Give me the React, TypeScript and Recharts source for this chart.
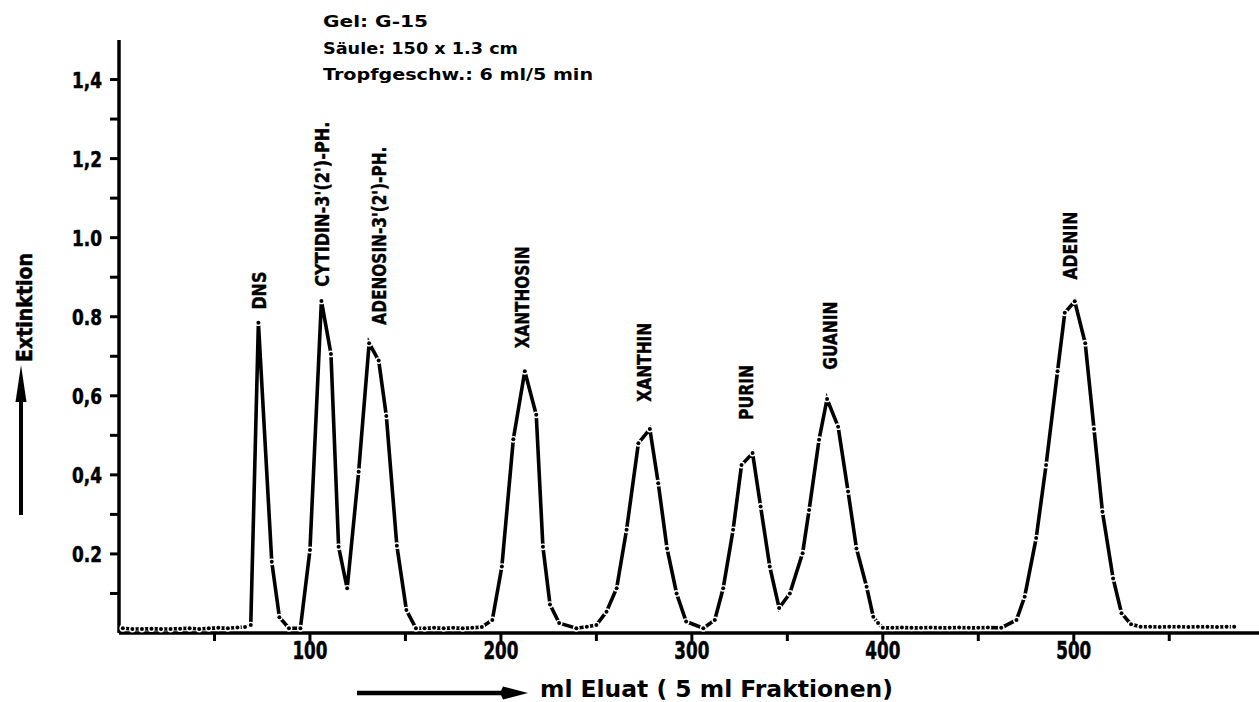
import { ComposedChart, Line, Scatter, XAxis, YAxis } from 'recharts';

// Elution volume (ml) of each measured fraction and its extinction
const elutionMl = [
  2, 7, 12, 17, 22, 27, 32, 37, 42, 47, 52, 57, 62, 66, 69,
  73, 80, 84, 89, 95, 100, 106, 111, 115, 119.5, 125.5, 131, 136, 140, 145.5, 150.5, 155.5,
  160, 165, 170, 175, 180, 185, 190, 195.5, 200.5, 206.5, 212.5, 218.5, 222, 225.7, 230.5,
  239.5, 245, 250, 255.3, 260.6, 265.8, 272, 278, 282.4, 287, 292, 297, 306,
  312, 316.4, 321.6, 326, 331.8, 336, 340.8, 345.7, 351.3, 358, 361.4, 366.6, 370.8,
  376.6, 381.8, 386.2, 391.5, 395, 397.5, 400,
  405, 410, 415, 420, 425, 430, 435, 440, 445, 450, 455, 462,
  470, 474.3, 480.3, 485.5, 491.5, 495.3, 500.5, 506, 510.6, 515, 520.6, 525, 530,
  535, 540, 545, 550, 555, 560, 565, 570, 575, 580, 584,
];
const extinction = [
  0.012, 0.01, 0.01, 0.011, 0.01, 0.01, 0.011, 0.012, 0.01, 0.012, 0.013, 0.012, 0.014, 0.015, 0.02,
  0.785, 0.18, 0.04, 0.012, 0.012, 0.21, 0.84, 0.706, 0.218, 0.113, 0.408, 0.733, 0.689, 0.549, 0.221, 0.058, 0.012,
  0.012, 0.013, 0.012, 0.013, 0.012, 0.013, 0.015, 0.033, 0.168, 0.49, 0.662, 0.552, 0.218, 0.072, 0.025,
  0.012, 0.016, 0.02, 0.054, 0.113, 0.261, 0.48, 0.516, 0.379, 0.214, 0.1, 0.029, 0.012,
  0.033, 0.113, 0.261, 0.425, 0.455, 0.32, 0.168, 0.063, 0.1, 0.202, 0.311, 0.489, 0.592,
  0.522, 0.358, 0.214, 0.117, 0.041, 0.025, 0.013,
  0.013, 0.014, 0.013, 0.013, 0.014, 0.013, 0.013, 0.014, 0.013, 0.013, 0.014, 0.013,
  0.033, 0.092, 0.24, 0.425, 0.662, 0.81, 0.839, 0.733, 0.516, 0.307, 0.138, 0.05, 0.022,
  0.016, 0.016, 0.015, 0.016, 0.016, 0.015, 0.016, 0.016, 0.015, 0.016, 0.016,
];

// Peak names, with where the foot of each vertical label sits (ml, extinction)
const peakNames = [
  'DNS',
  "CYTIDIN-3'(2')-PH.",
  "ADENOSIN-3'(2')-PH.",
  'XANTHOSIN',
  'XANTHIN',
  'PURIN',
  'GUANIN',
  'ADENIN',
];
const peakLabelMl = [73.3, 106.2, 136, 211.3, 275.2, 328.2, 372.5, 498];
const peakLabelFoot = [0.818, 0.876, 0.78, 0.72, 0.585, 0.539, 0.666, 0.894];

const xTicks = [50, 100, 150, 200, 250, 300, 350, 400, 450, 500, 550];
const xTickLabels = ['', '100', '', '200', '', '300', '', '400', '', '500', ''];
const yTicks = [0.1, 0.2, 0.3, 0.4, 0.5, 0.6, 0.7, 0.8, 0.9, 1.0, 1.1, 1.2, 1.3, 1.4];
const yTickLabels = ['', '0.2', '', '0,4', '', '0,6', '', '0.8', '', '1.0', '', '1,2', '', '1,4'];

const notes = ['Gel:  G-15', 'Säule:  150 x 1.3 cm', 'Tropfgeschw.:  6 ml/5 min'];

const curve = elutionMl.map((ml, i) => ({ ml, ext: extinction[i] }));
const labels = peakNames.map((name, i) => ({ ml: peakLabelMl[i], ext: peakLabelFoot[i], name }));

const narrow = '"Liberation Sans Narrow", "DejaVu Sans Condensed", "Arial Narrow", sans-serif';
const wide = '"DejaVu Sans", Verdana, sans-serif';

const labelLength: Record<string, number> = {
  DNS: 38,
  "CYTIDIN-3'(2')-PH.": 165,
  "ADENOSIN-3'(2')-PH.": 178,
  XANTHOSIN: 102,
  XANTHIN: 79,
  PURIN: 55,
  GUANIN: 68,
  ADENIN: 68,
};
const noteLength = [105, 195, 270];

function MeasureDot(props: any) {
  const { cx, cy, index } = props;
  if (cx == null || cy == null) return <g key={index} />;
  return (
    <g key={`d${index}`}>
      <circle cx={cx} cy={cy} r={3.4} fill="#fff" />
      <circle cx={cx} cy={cy} r={2} fill="#000" />
    </g>
  );
}

function PeakLabel(props: any) {
  const { cx, cy, payload } = props;
  return (
    <text
      x={cx}
      y={cy}
      dy={7}
      transform={`rotate(-90 ${cx} ${cy})`}
      textAnchor="start"
      fontFamily={narrow}
      fontWeight={700}
      fontSize={19}
      fill="#000"
      stroke="#000"
      strokeWidth={0.4}
      textLength={labelLength[payload.name]}
      lengthAdjust="spacingAndGlyphs"
    >
      {payload.name}
    </text>
  );
}

function XTick(props: any) {
  const { x, y, index } = props;
  const txt = xTickLabels[index] ?? '';
  if (!txt) return <g />;
  return (
    <text x={x} y={y} dy={17} textAnchor="middle" fontFamily={narrow} fontWeight={700} fontSize={24}
      fill="#000" stroke="#000" strokeWidth={0.5} textLength={35} lengthAdjust="spacingAndGlyphs">
      {txt}
    </text>
  );
}

function YTick(props: any) {
  const { x, y, index } = props;
  const txt = yTickLabels[index] ?? '';
  if (!txt) return <g />;
  return (
    <text x={x} y={y} dy={8} textAnchor="end" fontFamily={narrow} fontWeight={700} fontSize={22} fill="#000"
      stroke="#000" strokeWidth={0.5} textLength={30} lengthAdjust="spacingAndGlyphs">
      {txt}
    </text>
  );
}

export default function App() {
  return (
    <div style={{ position: 'absolute', left: 0, top: 0, width: 1259, height: 702, background: '#fff' }}>
      <ComposedChart width={1259} height={702} data={curve} margin={{ top: 40, right: 0, left: 0, bottom: 0 }}>
        <XAxis
          type="number"
          dataKey="ml"
          domain={[0, 597]}
          ticks={xTicks}
          interval={0}
          height={69}
          tickSize={8}
          tickMargin={1}
          axisLine={{ stroke: '#000', strokeWidth: 3.5 }}
          tickLine={{ stroke: '#000', strokeWidth: 3 }}
          tick={<XTick />}
        />
        <YAxis
          type="number"
          dataKey="ext"
          domain={[0, 1.5]}
          ticks={yTicks}
          interval={0}
          width={119}
          tickSize={9}
          tickMargin={8}
          axisLine={{ stroke: '#000', strokeWidth: 3.5 }}
          tickLine={{ stroke: '#000', strokeWidth: 3 }}
          tick={<YTick />}
        />
        <Line
          data={curve}
          dataKey="ext"
          type="linear"
          stroke="#000"
          strokeWidth={3.6}
          dot={MeasureDot}
          activeDot={false}
          isAnimationActive={false}
        />
        <Scatter data={labels} dataKey="ext" shape={PeakLabel} isAnimationActive={false} />
      </ComposedChart>

      <svg width={1259} height={702} style={{ position: 'absolute', left: 0, top: 0, pointerEvents: 'none' }}>
        {notes.map((n, i) => (
          <text key={n} x={323} y={27 + i * 26.5} fontFamily={wide} fontWeight={700} fontSize={16} fill="#000"
            textLength={noteLength[i]} lengthAdjust="spacingAndGlyphs">
            {n}
          </text>
        ))}

        {/* y axis title and arrow */}
        <text x={32} y={362} transform="rotate(-90 32 362)" fontFamily={narrow} fontWeight={700} fontSize={22}
          fill="#000" stroke="#000" strokeWidth={0.5} textLength={109} lengthAdjust="spacingAndGlyphs">
          Extinktion
        </text>
        <line x1={21} y1={515} x2={21} y2={395} stroke="#000" strokeWidth={4} />
        <polygon points="21,365 15.5,402 26.5,402" fill="#000" />

        {/* x axis title and arrow */}
        <line x1={357} y1={693} x2={505} y2={693} stroke="#000" strokeWidth={4.5} />
        <polygon points="528,693 503,686.5 500,693 503,699.5" fill="#000" />
        <text x={540} y={697} fontFamily={wide} fontWeight={700} fontSize={23} fill="#000"
          textLength={353} lengthAdjust="spacingAndGlyphs">
          ml Eluat ( 5 ml Fraktionen)
        </text>
      </svg>
    </div>
  );
}
